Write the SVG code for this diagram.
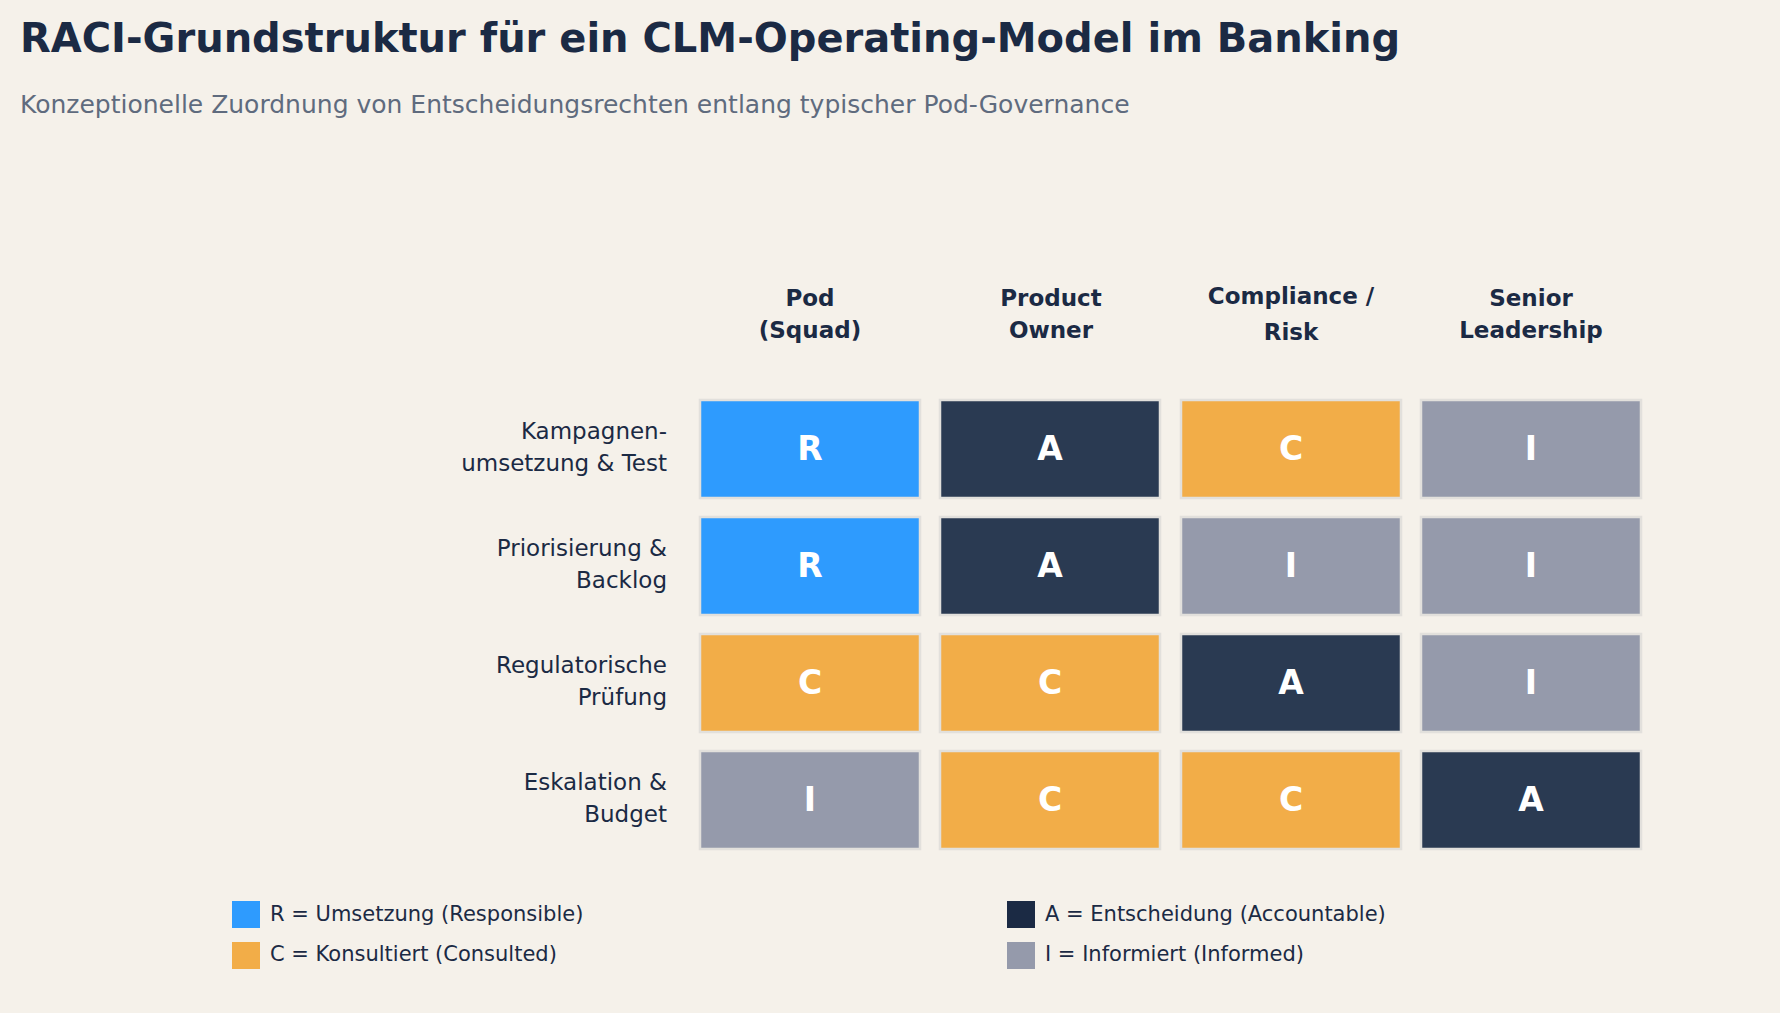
<svg xmlns="http://www.w3.org/2000/svg" width="1780" height="1013" viewBox="0 0 1780 1013">
<style>
text{font-family:"DejaVu Sans","Liberation Sans",sans-serif;fill:#1b2a44}
.h{font-weight:bold;font-size:23px;text-anchor:middle}
.r{font-size:23px;text-anchor:end}
.c{stroke:#e2e0dc;stroke-width:2.5}
.l{font-weight:bold;font-size:33px;text-anchor:middle;fill:#fff}
.lg{font-size:21px}
.R{fill:#2e9bfe}.A{fill:#2a3a52}.C{fill:#f2ad48}.I{fill:#959aab}
</style>
<rect width="1780" height="1013" fill="#f5f1ea"/>
<text x="20" y="52" font-size="40" font-weight="bold">RACI-Grundstruktur für ein CLM-Operating-Model im Banking</text>
<text x="20" y="113" font-size="25" style="fill:#5f6b7e">Konzeptionelle Zuordnung von Entscheidungsrechten entlang typischer Pod-Governance</text>
<g id="headers">
<text class="h" x="810" y="306">Pod</text><text class="h" x="810" y="338">(Squad)</text>
<text class="h" x="1051" y="306">Product</text><text class="h" x="1051" y="338">Owner</text>
<text class="h" x="1291" y="304">Compliance /</text><text class="h" x="1291" y="340">Risk</text>
<text class="h" x="1531" y="306">Senior</text><text class="h" x="1531" y="338">Leadership</text>
</g>
<g id="rowlabels">
<text class="r" x="667" y="439">Kampagnen-</text><text class="r" x="667" y="471">umsetzung &amp; Test</text>
<text class="r" x="667" y="556">Priorisierung &amp;</text><text class="r" x="667" y="588">Backlog</text>
<text class="r" x="667" y="673">Regulatorische</text><text class="r" x="667" y="705">Prüfung</text>
<text class="r" x="667" y="790">Eskalation &amp;</text><text class="r" x="667" y="822">Budget</text>
</g>
<g id="row1">
<rect class="c R" x="700" y="400" width="220" height="98"/><text class="l" x="810" y="460">R</text>
<rect class="c A" x="940" y="400" width="220" height="98"/><text class="l" x="1050" y="460">A</text>
<rect class="c C" x="1181" y="400" width="220" height="98"/><text class="l" x="1291" y="460">C</text>
<rect class="c I" x="1421" y="400" width="220" height="98"/><text class="l" x="1531" y="460">I</text>
</g>
<g id="row2">
<rect class="c R" x="700" y="517" width="220" height="98"/><text class="l" x="810" y="577">R</text>
<rect class="c A" x="940" y="517" width="220" height="98"/><text class="l" x="1050" y="577">A</text>
<rect class="c I" x="1181" y="517" width="220" height="98"/><text class="l" x="1291" y="577">I</text>
<rect class="c I" x="1421" y="517" width="220" height="98"/><text class="l" x="1531" y="577">I</text>
</g>
<g id="row3">
<rect class="c C" x="700" y="634" width="220" height="98"/><text class="l" x="810" y="694">C</text>
<rect class="c C" x="940" y="634" width="220" height="98"/><text class="l" x="1050" y="694">C</text>
<rect class="c A" x="1181" y="634" width="220" height="98"/><text class="l" x="1291" y="694">A</text>
<rect class="c I" x="1421" y="634" width="220" height="98"/><text class="l" x="1531" y="694">I</text>
</g>
<g id="row4">
<rect class="c I" x="700" y="751" width="220" height="98"/><text class="l" x="810" y="811">I</text>
<rect class="c C" x="940" y="751" width="220" height="98"/><text class="l" x="1050" y="811">C</text>
<rect class="c C" x="1181" y="751" width="220" height="98"/><text class="l" x="1291" y="811">C</text>
<rect class="c A" x="1421" y="751" width="220" height="98"/><text class="l" x="1531" y="811">A</text>
</g>
<g id="legend">
<rect x="232" y="901" width="28" height="27" fill="#2e9bfe"/><text class="lg" x="270" y="921">R = Umsetzung (Responsible)</text>
<rect x="232" y="942" width="28" height="27" fill="#f2ad48"/><text class="lg" x="270" y="961">C = Konsultiert (Consulted)</text>
<rect x="1007" y="901" width="28" height="27" fill="#1b2a44"/><text class="lg" x="1045" y="921">A = Entscheidung (Accountable)</text>
<rect x="1007" y="942" width="28" height="27" fill="#959aab"/><text class="lg" x="1045" y="961">I = Informiert (Informed)</text>
</g>
<g id="connectors"/>
</svg>
